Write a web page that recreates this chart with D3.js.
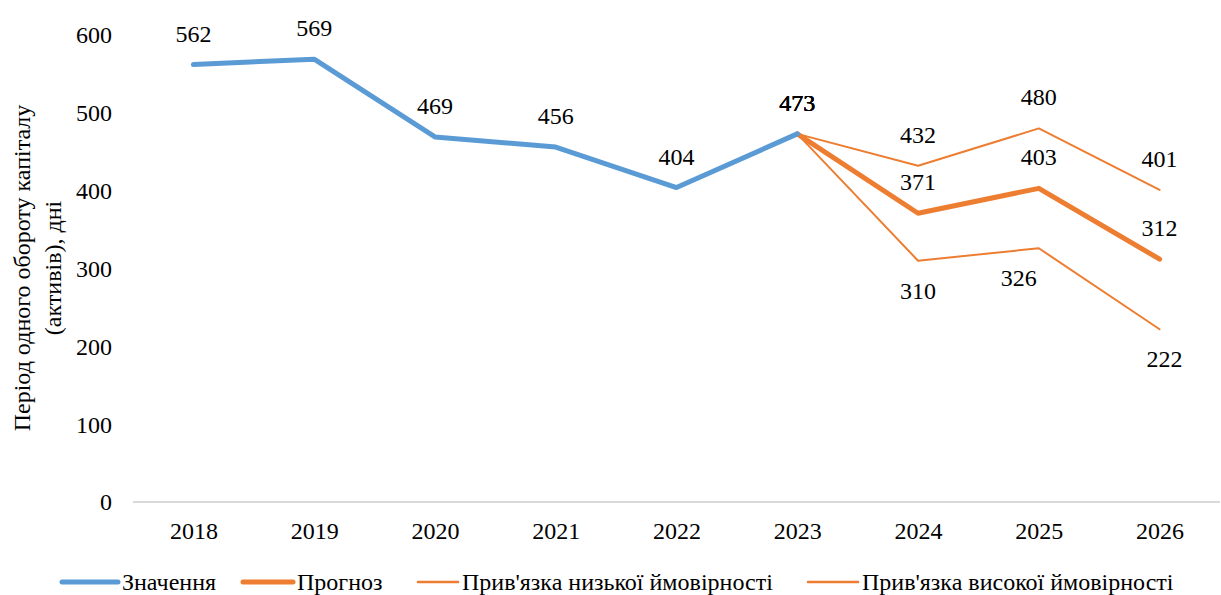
<!DOCTYPE html>
<html><head><meta charset="utf-8">
<script src="https://cdn.jsdelivr.net/npm/d3@7"></script>
<style>body{margin:0;background:#fff}</style>
</head><body><svg id="c" width="1221" height="595" style="font-family:'Liberation Serif',serif"></svg>
<script>
const years = ["2018","2019","2020","2021","2022","2023","2024","2025","2026"];
const actualYears = ["2018","2019","2020","2021","2022","2023"];
const actualValues = [562,569,469,456,404,473];
const forecastYears = ["2023","2024","2025","2026"];
const forecastValues = [473,371,403,312];
const lowValues = [473,310,326,222];
const highValues = [473,432,480,401];
const yTicks = [0,100,200,300,400,500,600];
const seriesNames = ["Значення","Прогноз","Прив'язка низької ймовірності","Прив'язка високої ймовірності"];
const yTitle = ["Період одного обороту капіталу","(активів), дні"];

const blue = "#5b9bd5", orange = "#ed7d31";
const FF = '"Liberation Serif"';
const FS = 24;
const svg = d3.select("#c");
const x = d3.scalePoint().domain(years).range([133,1220]).padding(0.5);
const y = d3.scaleLinear().domain([0,600]).range([502,35]);

svg.append("g").selectAll("text").data(yTicks).join("text")
  .attr("x",112).attr("y",d=>y(d)).attr("dy","0.35em").attr("text-anchor","end")
  .style("font-family",FF).style("font-size",FS+"px").attr("fill","#000").text(d=>d);

const xa = d3.axisBottom(x).tickSize(0).tickPadding(20);
const gx = svg.append("g").attr("transform","translate(0,502)").call(xa);
gx.attr("font-family",null);
gx.select(".domain").attr("stroke","#d9d9d9").attr("stroke-width",2).attr("d","M133,0H1220");
gx.selectAll("text").style("font-family",FF).style("font-size",FS+"px").attr("fill","#000");

const yt = svg.append("text").attr("transform","translate(0,268) rotate(-90)")
  .attr("text-anchor","middle").style("font-family",FF).style("font-size","24px").attr("fill","#000");
yt.append("tspan").attr("x",0).attr("y",30).text(yTitle[0]);
yt.append("tspan").attr("x",0).attr("y",61).text(yTitle[1]);

const line = d3.line().x(d=>x(d[0])).y(d=>y(d[1]));
const series = [
  {name:seriesNames[0], ys:actualYears, vs:actualValues, color:blue, w:5, pos:actualValues.map(()=>"above")},
  {name:seriesNames[1], ys:forecastYears, vs:forecastValues, color:orange, w:5, pos:["above","above","above","above"]},
  {name:seriesNames[2], ys:forecastYears, vs:lowValues, color:orange, w:2, pos:["above","below","belowleft","below"]},
  {name:seriesNames[3], ys:forecastYears, vs:highValues, color:orange, w:2, pos:["above","above","above","above"]}
];
[series[2],series[3],series[1],series[0]].forEach(s=>{
  svg.append("path").datum(s.ys.map((yr,i)=>[yr,s.vs[i]]))
    .attr("d",line).attr("fill","none").attr("stroke",s.color)
    .attr("stroke-width",s.w).attr("stroke-linejoin","round").attr("stroke-linecap","round");
});
series.forEach(s=>{
  svg.append("g").selectAll("text").data(s.ys.map((yr,i)=>({yr,v:s.vs[i],p:s.pos[i]}))).join("text")
    .attr("x",d=>x(d.yr)+(d.p==="belowleft"?-20:(d.p==="below"&&d.yr==="2026"?5:0)))
    .attr("y",d=>y(d.v)+(d.p==="above"?-23:38))
    .attr("text-anchor","middle").style("font-family",FF).style("font-size",FS+"px").attr("fill","#000").text(d=>d.v);
});

const leg = [
  {x0:62,x1:118,tx:122,w:5,c:blue,t:seriesNames[0]},
  {x0:243,x1:293,tx:297,w:5,c:orange,t:seriesNames[1]},
  {x0:418,x1:458,tx:462,w:2.5,c:orange,t:seriesNames[2]},
  {x0:808,x1:858,tx:862,w:2.5,c:orange,t:seriesNames[3]}
];
const lg = svg.append("g");
leg.forEach(l=>{
  lg.append("line").attr("x1",l.x0).attr("x2",l.x1).attr("y1",582).attr("y2",582)
    .attr("stroke",l.c).attr("stroke-width",l.w).attr("stroke-linecap","round");
  lg.append("text").attr("x",l.tx).attr("y",582).attr("dy","0.35em").style("font-family",FF).style("font-size",FS+"px").attr("fill","#000").text(l.t);
});
</script></body></html>
